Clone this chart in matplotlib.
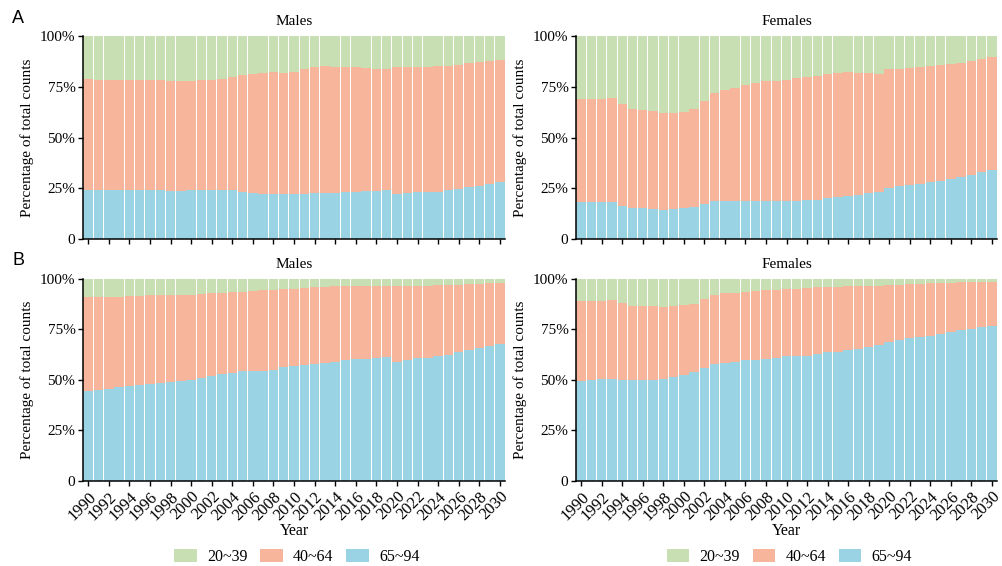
import numpy as np
import matplotlib
matplotlib.use("Agg")
import matplotlib.pyplot as plt
from matplotlib.patches import Patch

plt.rcParams["font.family"] = ["Liberation Serif", "DejaVu Serif"]

years = list(range(1990, 2031))
age_groups = ["20~39", "40~64", "65~94"]
colors = {"20~39": "#c7dfb2", "40~64": "#f7b59b", "65~94": "#9ad3e3"}

# panel A, males: share (%) aged 65~94 and 40~64 (rest is 20~39)
a_male_65 = [23.9, 23.9, 24.0, 24.0, 24.2, 24.2, 24.0, 23.9, 23.6, 23.6, 23.9, 24.2, 24.0, 24.0,
             23.9, 23.4, 22.9, 22.4, 22.2, 22.2, 22.4, 22.4, 22.6, 22.7, 22.9, 23.2, 23.4, 23.6,
             23.8, 24.1, 22.2, 22.6, 23.0, 23.2, 23.4, 24.0, 24.7, 25.4, 26.2, 27.3, 28.3]
a_male_40 = [54.7, 54.5, 54.3, 54.3, 54.2, 54.2, 54.3, 54.3, 54.4, 54.4, 53.7, 53.9, 54.4, 54.6,
             55.7, 57.2, 58.6, 59.5, 60.0, 59.5, 60.0, 61.3, 62.2, 62.5, 61.8, 61.6, 61.4, 60.7,
             59.9, 59.6, 62.3, 62.0, 61.8, 61.6, 61.6, 61.3, 61.1, 61.1, 60.9, 60.3, 59.8]

# panel A, females
a_female_65 = [18.3, 18.1, 18.1, 18.0, 16.5, 15.5, 15.3, 15.0, 14.3, 14.7, 15.2, 15.7, 17.3, 18.8,
               18.9, 18.9, 18.8, 18.5, 18.5, 18.5, 18.5, 18.8, 19.1, 19.4, 20.1, 20.6, 21.1, 21.7,
               22.6, 23.1, 25.0, 25.9, 26.5, 27.2, 28.0, 28.8, 29.7, 30.6, 31.6, 32.8, 33.9]
a_female_40 = [50.6, 50.8, 51.1, 51.7, 50.1, 48.4, 48.3, 47.9, 47.6, 47.4, 47.6, 48.1, 50.6, 52.9,
               54.4, 55.7, 57.0, 58.3, 59.1, 59.3, 59.8, 60.3, 60.8, 61.0, 61.1, 61.1, 61.1, 60.0,
               59.1, 58.4, 58.5, 58.0, 57.5, 57.3, 57.0, 56.7, 56.3, 56.2, 56.0, 55.8, 55.6]

# panel B, males
b_male_65 = [44.3, 45.0, 45.6, 46.3, 47.0, 47.3, 47.8, 48.3, 48.9, 49.6, 50.2, 51.2, 52.1, 52.9,
             53.6, 54.2, 54.2, 54.4, 54.9, 56.2, 57.1, 57.6, 57.8, 58.3, 59.1, 59.8, 60.3, 60.5,
             60.9, 61.4, 59.1, 60.1, 60.8, 61.1, 61.7, 62.2, 63.7, 64.7, 65.9, 66.9, 68.0]
b_male_40 = [46.6, 45.9, 45.5, 45.0, 44.4, 44.3, 44.0, 43.5, 43.1, 42.5, 41.9, 41.3, 40.7, 40.0,
             39.8, 39.5, 40.0, 40.2, 39.8, 38.7, 38.1, 38.0, 38.1, 37.9, 37.3, 36.6, 36.1, 35.9,
             35.5, 35.0, 37.3, 36.4, 35.9, 35.6, 35.1, 34.8, 33.5, 32.8, 31.6, 31.0, 29.9]

# panel B, females
b_female_65 = [49.4, 50.1, 50.6, 50.7, 50.1, 49.8, 50.1, 50.2, 50.4, 51.4, 52.6, 53.9, 55.8, 57.7,
               58.6, 59.1, 59.8, 60.1, 60.3, 61.1, 61.8, 62.0, 62.1, 62.9, 63.6, 63.8, 64.6, 65.1,
               66.1, 67.1, 68.7, 69.7, 70.7, 71.3, 71.8, 72.8, 73.6, 74.5, 75.3, 76.1, 76.9]
b_female_40 = [39.6, 38.9, 38.5, 38.8, 38.0, 37.0, 36.6, 36.5, 35.6, 35.3, 34.6, 33.9, 34.3, 34.2,
               34.2, 34.1, 33.9, 34.0, 34.3, 33.3, 33.1, 33.2, 33.5, 33.0, 32.4, 32.4, 31.8, 31.3,
               30.3, 29.6, 28.3, 27.5, 26.8, 26.4, 26.1, 25.2, 24.6, 23.9, 23.2, 22.4, 21.8]

fig = plt.figure(figsize=(10.03, 5.66), dpi=100)

def panel(rect, old, mid, title, show_x):
    ax = fig.add_axes(rect)
    x = np.arange(len(years))
    old = np.array(old)
    mid = np.array(mid)
    young = 100 - old - mid
    w = 0.92
    ax.bar(x, old, width=w, color=colors["65~94"], linewidth=0)
    ax.bar(x, mid, width=w, bottom=old, color=colors["40~64"], linewidth=0)
    ax.bar(x, young, width=w, bottom=old + mid, color=colors["20~39"], linewidth=0)
    ax.set_xlim(-0.5, len(years) - 0.5)
    ax.set_ylim(0, 100)
    ax.set_yticks([0, 25, 50, 75, 100])
    ax.set_yticklabels(["0", "25%", "50%", "75%", "100%"])
    ax.set_xticks(x[::2])
    if show_x:
        ax.set_xticklabels([str(y) for y in years[::2]], rotation=45, ha="right",
                           rotation_mode="anchor", fontsize=12)
        ax.set_xlabel("Year", fontsize=11.5, labelpad=0)
    else:
        ax.set_xticklabels([])
    ax.spines["top"].set_visible(False)
    ax.spines["right"].set_visible(False)
    ax.spines["left"].set_linewidth(1.1)
    ax.spines["bottom"].set_linewidth(1.1)
    ax.tick_params(axis="y", length=3.5, width=1, labelsize=11, pad=2)
    ax.tick_params(axis="x", length=3.5, width=1, pad=2)
    ax.set_ylabel("Percentage of total counts", fontsize=11, labelpad=4)
    ax.set_title(title, fontsize=11, pad=8)
    return ax

panel([0.0828, 0.5777, 0.4207, 0.3587], a_male_65, a_male_40, "Males", False)
panel([0.5743, 0.5777, 0.4197, 0.3587], a_female_65, a_female_40, "Females", False)
panel([0.0828, 0.1502, 0.4207, 0.3570], b_male_65, b_male_40, "Males", True)
panel([0.5743, 0.1502, 0.4197, 0.3570], b_female_65, b_female_40, "Females", True)

fig.text(0.012, 0.968, "A", fontsize=13, family="Liberation Sans", va="center")
fig.text(0.012, 0.54, "B", fontsize=13, family="Liberation Sans", va="center")

handles = [Patch(facecolor=colors[g], edgecolor="none", label=g) for g in age_groups]
for cx in [0.296, 0.787]:
    fig.legend(handles=handles, loc="center", bbox_to_anchor=(cx, 0.016), ncol=3,
               frameon=False, fontsize=11.5, handlelength=1.4, handleheight=0.9,
               handletextpad=0.65, columnspacing=0.8, borderpad=0)

fig.savefig("out.png", dpi=100)
